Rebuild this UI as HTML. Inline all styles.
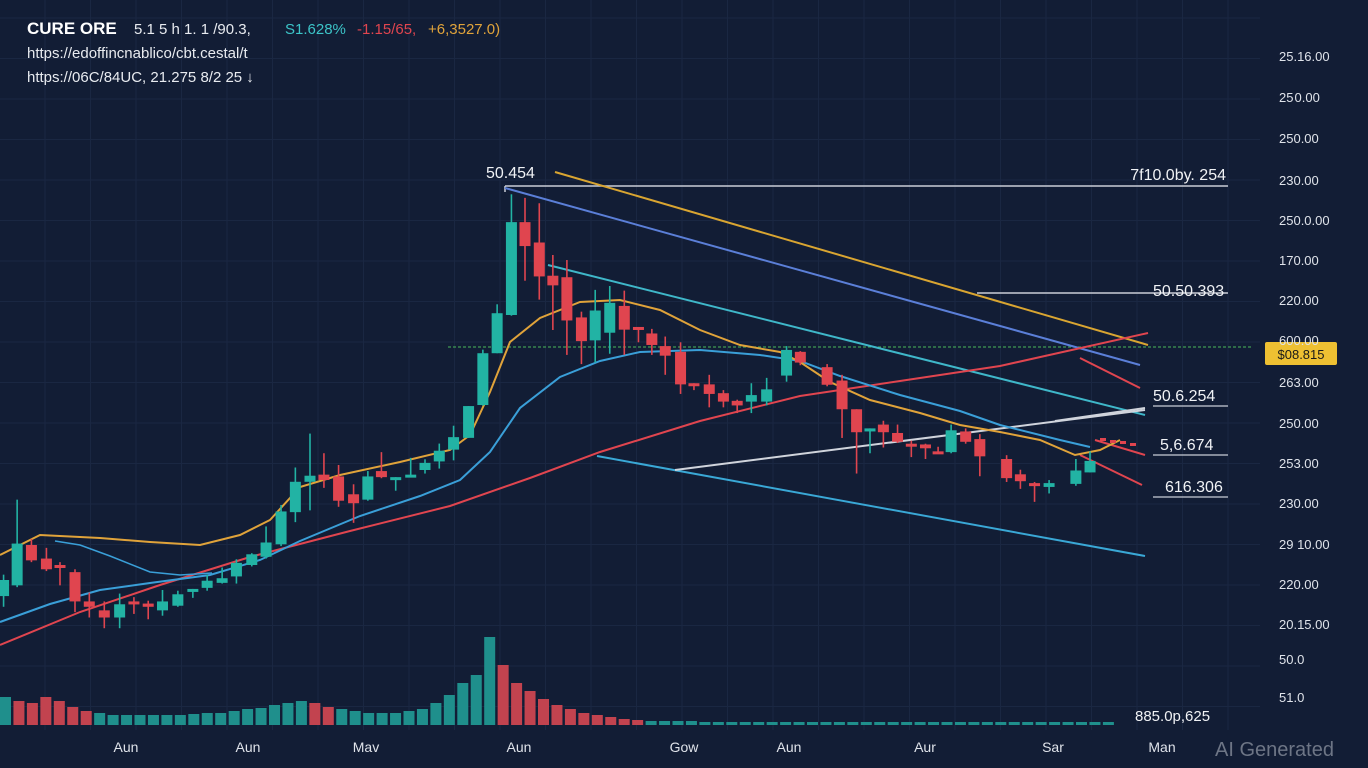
<!DOCTYPE html>
<html><head><meta charset="utf-8"><style>
html,body{margin:0;padding:0;background:#121d35;}
svg{display:block}
text{font-family:"Liberation Sans",sans-serif;}
</style></head><body>
<svg id="s" width="1368" height="768" viewBox="0 0 1368 768" xmlns="http://www.w3.org/2000/svg">
<rect width="1368" height="768" fill="#121d35"/>
<g id="grid" stroke="#1a2742" stroke-width="1"></g>
<g id="vol"></g>
<line x1="448" y1="347" x2="1252" y2="347" stroke="#3f9a55" stroke-width="1.3" stroke-dasharray="3,2"/>
<line x1="505" y1="186" x2="1228" y2="186" stroke="#c9cdd6" stroke-width="1.5"/>
<line x1="977" y1="293" x2="1228" y2="293" stroke="#c9cdd6" stroke-width="1.5"/>
<line x1="1153" y1="406" x2="1228" y2="406" stroke="#c9cdd6" stroke-width="1.3"/>
<line x1="1153" y1="455" x2="1228" y2="455" stroke="#c9cdd6" stroke-width="1.3"/>
<line x1="1153" y1="497" x2="1228" y2="497" stroke="#c9cdd6" stroke-width="1.3"/>
<line x1="505" y1="186" x2="505" y2="192" stroke="#c9cdd6" stroke-width="1.5"/>
<line x1="555" y1="172" x2="1148" y2="345" stroke="#d9a531" stroke-width="2"/>
<line x1="505" y1="188" x2="1140" y2="365" stroke="#5b7fd8" stroke-width="2"/>
<line x1="548" y1="265" x2="1145" y2="415" stroke="#3fb7c9" stroke-width="2"/>
<line x1="597" y1="456" x2="1145" y2="556" stroke="#3aa8d6" stroke-width="2"/>
<line x1="1080" y1="358" x2="1140" y2="388" stroke="#e0454f" stroke-width="2"/>
<line x1="1080" y1="455" x2="1142" y2="485" stroke="#e0454f" stroke-width="2"/>
<line x1="1095" y1="440" x2="1145" y2="455" stroke="#e0454f" stroke-width="2"/>
<line x1="675" y1="470" x2="1145" y2="410" stroke="#d0d4dc" stroke-width="2"/>
<line x1="1055" y1="421" x2="1145" y2="408" stroke="#d0d4dc" stroke-width="2"/>
<polyline fill="none" stroke="#e0454f" stroke-width="2" points="0,645 80,612 160,585 250,557 350,531 450,506 530,478 600,452 700,421 800,396 900,381 1000,366 1148,333"/>
<polyline fill="none" stroke="#3a9fd8" stroke-width="2" points="0,622 50,604 100,590 150,583 210,575 260,560 300,541 360,516 420,496 460,480 490,452 520,408 560,377 600,361 640,352 700,350 760,355 800,361 840,376 900,395 960,411 1000,425 1060,440 1090,447"/>
<polyline fill="none" stroke="#3a9fd8" stroke-width="1.6" points="55,541 80,545 110,556 150,572 180,575 212,573"/>
<polyline fill="none" stroke="#e0a33a" stroke-width="2" points="0,555 40,535 100,538 150,542 200,545 240,535 270,520 300,487 340,475 400,462 450,450 470,435 490,392 510,342 540,318 580,302 620,300 660,310 700,330 740,345 780,352 800,362 830,382 870,400 920,413 960,425 1000,432 1040,440 1075,455 1100,450 1120,440"/>
<g id="candles"></g>
<text x="27" y="34" font-size="17" font-weight="bold" fill="#ffffff">CURE ORE</text>
<text x="134" y="34" font-size="15" fill="#e8ebf0">5.1 5  h 1. 1 /90.3,</text>
<text x="285" y="34" font-size="15" fill="#3cc4c8">S1.628%</text>
<text x="357" y="34" font-size="15" fill="#e0454f">-1.15/65,</text>
<text x="428" y="34" font-size="15" fill="#e0a33a">+6,3527.0)</text>
<text x="27" y="58" font-size="15" fill="#e8ebf0">https://edoffincnablico/cbt.cestal/t</text>
<text x="27" y="82" font-size="15" fill="#e8ebf0">https://06C/84UC, 21.275 8/2 25 ↓</text>
<text x="486" y="178" font-size="16" fill="#f0f2f5">50.454</text>
<text x="1226" y="180" font-size="16" fill="#f0f2f5" text-anchor="end">7f10.0by. 254</text>
<text x="1153" y="296" font-size="16" fill="#f0f2f5">50.50.393</text>
<text x="1153" y="401" font-size="16" fill="#f0f2f5">50.6.254</text>
<text x="1160" y="450" font-size="16" fill="#f0f2f5">5,6.674</text>
<text x="1165" y="492" font-size="16" fill="#f0f2f5">616.306</text>
<text x="1135" y="721" font-size="15" fill="#f0f2f5">885.0p,625</text>
<rect x="1265" y="342" width="72" height="23" fill="#eec032" rx="2"/>
<text x="1301" y="359" font-size="13" fill="#1a1a1a" text-anchor="middle">$08.815</text>
<g id="axis" font-size="13" fill="#dfe3ea"></g>
<g font-size="14" fill="#dfe3ea" text-anchor="middle">
<text x="126" y="752">Aun</text><text x="248" y="752">Aun</text><text x="366" y="752">Mav</text>
<text x="519" y="752">Aun</text><text x="684" y="752">Gow</text><text x="789" y="752">Aun</text>
<text x="925" y="752">Aur</text><text x="1053" y="752">Sar</text><text x="1162" y="752">Man</text>
</g>
<text x="1215" y="756" font-size="20" fill="#6d7585">AI Generated</text>
</svg>
<script>
var NS="http://www.w3.org/2000/svg";
function el(p,t,a){var e=document.createElementNS(NS,t);for(var k in a)e.setAttribute(k,a[k]);p.appendChild(e);return e;}
var g=document.getElementById("grid");
for(var x=45;x<1260;x+=45.5)el(g,"line",{x1:x,y1:0,x2:x,y2:730});
for(var y=18;y<730;y+=40.5)el(g,"line",{x1:0,y1:y,x2:1260,y2:y});
var G="#22b3a4",R="#e0454f";
var z1=[[10,1120,1165,1105,1195,1],[48,1018,1135,895,1140,1],[88,1022,1065,1005,1070,0],[130,1060,1090,1030,1095,0],[168,1078,1085,1070,1135,0],[210,1098,1180,1090,1210,0],[250,1180,1195,1155,1225,0],[292,1205,1225,1180,1255,0],[335,1188,1225,1158,1255,1],[375,1180,1186,1168,1215,0],[415,1186,1195,1178,1230,0],[455,1180,1205,1148,1220,1],[498,1160,1192,1150,1195,1],[540,1145,1152,1145,1170,1],[580,1122,1142,1105,1150,1],[622,1115,1128,1085,1130,1],[662,1072,1110,1062,1130,1],[705,1048,1078,1045,1082,1],[745,1015,1055,970,1060,1],[787,928,1020,910,1025,1],[827,845,930,805,958,1],[868,828,845,710,925,1],[907,825,840,765,862,0],[948,830,898,798,915,0],[990,880,905,852,960,0],[1030,830,895,815,898,1],[1068,815,832,762,835,0],[1108,832,835,832,870,1],[1150,825,830,778,830,1],[1190,792,812,782,822,1],[1230,758,788,738,808,1],[1270,720,755,688,785,1],[1312,633,722,633,722,1],[1352,485,630,475,632,1],[1392,373,485,348,485,1],[1432,118,378,40,380,1],[1470,118,185,50,282,0],[1510,175,270,65,335,0],[1548,268,295,210,420,0]];
var z2=[[18,45,158,0,248,0],[56,150,212,135,272,0],[92,132,210,78,268,1],[130,112,190,68,245,1],[168,120,182,80,248,0],[205,175,180,175,215,0],[240,192,222,180,248,0],[275,225,250,200,300,0],[315,240,325,215,350,0],[350,322,328,322,340,0],[390,325,350,300,385,0],[427,348,370,340,385,0],[463,368,380,365,400,0],[500,353,370,322,400,1],[540,338,370,308,380,1],[592,235,302,225,318,1],[628,240,268,238,275,0],[698,280,326,272,330,0],[737,315,390,300,465,0],[775,390,450,390,558,0],[810,440,448,440,505,1],[845,430,450,420,490,0],[882,452,475,430,478,0],[918,480,486,472,515,0],[955,482,492,480,520,0],[988,500,503,488,505,0],[1022,445,502,430,505,1],[1060,448,475,440,480,0],[1097,468,513,455,565,0],[1167,520,570,510,580,0],[1203,560,578,548,598,0],[1240,583,587,580,632,0],[1278,583,593,575,610,1],[1348,550,585,520,590,1],[1385,525,555,500,555,1]];
var c=document.getElementById("candles");
function draw(a,ox,oy,s,w){a.forEach(function(d){var x=ox+d[0]/s,col=d[5]?G:R;
el(c,"line",{x1:x,y1:oy+d[3]/s,x2:x,y2:oy+d[4]/s,stroke:col,"stroke-width":1.6});
var t=oy+d[1]/s,b=oy+d[2]/s;if(b-t<3)b=t+3;
el(c,"rect",{x:x-w/2,y:t,width:w,height:b-t,fill:col});});}
draw(z1,0,180,2.8,11);draw(z2,560,260,2.613,11);
[[1100,438],[1110,440],[1120,441],[1130,443]].forEach(function(p){el(c,"rect",{x:p[0],y:p[1],width:6,height:3,fill:R});});
var v=document.getElementById("vol");
var hs=[28,24,22,28,24,18,14,12,10,10,10,10,10,10,11,12,12,14,16,17,20,22,24,22,18,16,14,12,12,12,14,16,22,30,42,50,88,60,42,34,26,20,16,12,10,8,6,5,4,4,4,4,3,3,3,3,3,3,3,3,3,3,3,3,3,3,3,3,3,3,3,3,3,3,3,3,3,3,3,3,3,3,3];
var rc=[0,1,1,1,1,1,1,0,0,0,0,0,0,0,0,0,0,0,0,0,0,0,0,1,1,0,0,0,0,0,0,0,0,0,0,0,0,1,1,1,1,1,1,1,1,1,1,1];
for(var i=0;i<hs.length;i++){var x=i*13.45;el(v,"rect",{x:x,y:725-hs[i],width:11,height:hs[i],fill:rc[i]?"#c2434f":"#1f8f8c"});}
var ax=document.getElementById("axis");
[["25.16.00",61],["25\u200a0.00",102],["250.00",143],["230.00",185],["250.0.00",225],["170.00",265],["220.00",305],["600.00",345],["263.00",387],["250.00",428],["253.00",468],["230.00",508],["29 10.00",549],["220.00",589],["20.15.00",629],["50.0",664],["51.0",702]].forEach(function(a){var t=el(ax,"text",{x:1279,y:a[1]});t.textContent=a[0];});
</script>
</body></html>
